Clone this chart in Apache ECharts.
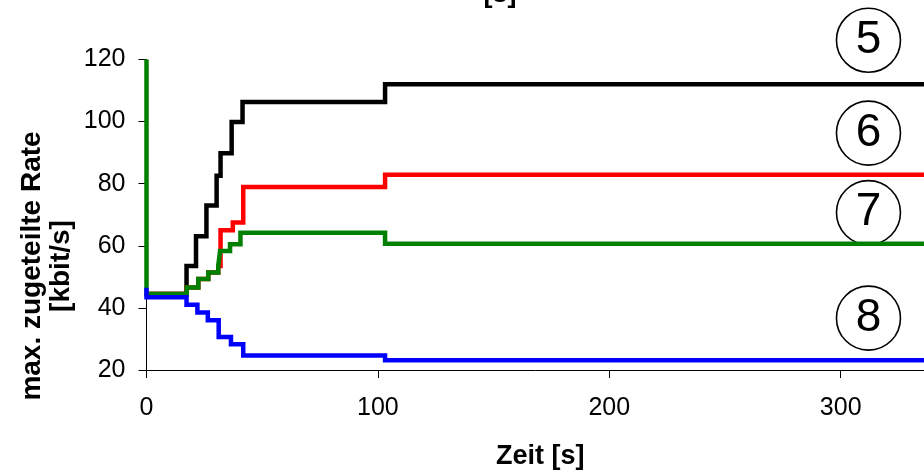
<!DOCTYPE html>
<html>
<head>
<meta charset="utf-8">
<script src="https://cdn.jsdelivr.net/npm/echarts@6/dist/echarts.min.js"></script>
<style>
html,body{margin:0;padding:0;background:#fff;}
#chart{width:924px;height:475px;}
</style>
</head>
<body>
<div id="chart"></div>
<script>
// ---- data (time in s, rate in kbit/s) ----
var blackTimes = [0, 17.3, 21.4, 25.9, 30.3, 32.0, 36.8, 41.5, 103.1, 336];
var blackValues = [44.5, 53.5, 63.1, 73.0, 82.6, 89.8, 99.9, 106.3, 112.0, 112.0];

var redTimes = [0, 17.4, 22.4, 26.7, 31.0, 32.0, 37.3, 41.8, 103.1, 336];
var redValues = [44.5, 46.6, 49.3, 51.4, 53.5, 65.0, 67.5, 78.9, 82.9, 82.9];

var greenTimes = [0, 0, 17.4, 22.4, 26.7, 31.0, 31.8, 36.1, 40.6, 103.1, 336];
var greenValues = [120, 44.5, 46.6, 49.3, 51.4, 53.5, 58.3, 60.5, 64.2, 60.7, 60.7];

var blueTimes = [0, 0, 17.3, 22.0, 26.5, 31.2, 36.5, 41.8, 103.1, 336];
var blueValues = [46.5, 43.4, 41.0, 38.5, 36.0, 30.6, 28.3, 24.7, 23.1, 23.1];

var markerLabels = ['5', '6', '7', '8'];
var markerTimes = [312, 312, 312, 312];
var markerValues = [126.2, 96.3, 70.7, 36.7];

var xTicks = [0, 100, 200, 300];
var yTicks = [20, 40, 60, 80, 100, 120];

function pairs(t, v) { return t.map(function (x, i) { return [x, v[i]]; }); }

var chart = echarts.init(document.getElementById('chart'), null, {renderer: 'canvas'});
var FONT = 'Liberation Sans, Arial, sans-serif';

function stepSeries(name, t, v, color) {
  return {
    name: name, type: 'line', step: 'end', data: pairs(t, v),
    showSymbol: false, symbol: 'none', animation: false,
    lineStyle: {color: color, width: 4.5, join: 'miter', cap: 'butt', opacity: 1},
    itemStyle: {color: color}, z: 3
  };
}

chart.setOption({
  backgroundColor: '#ffffff',
  animation: false,
  grid: {left: 146.5, top: 59.5, bottom: 103.5, right: 0, containLabel: false},
  xAxis: {
    type: 'value', min: 0, max: 336, interval: 100,
    name: 'Zeit [s]', nameLocation: 'middle', nameGap: 73,
    nameTextStyle: {fontFamily: FONT, fontSize: 27, fontWeight: 'bold', color: '#000', padding: [0, 0, 0, 10]},
    axisLine: {show: true, onZero: false, lineStyle: {color: '#000', width: 1}},
    axisTick: {show: true, length: 8, inside: false, lineStyle: {color: '#000'}},
    axisLabel: {
      show: true, margin: 26, fontFamily: FONT, fontSize: 25, color: '#000',
      showMaxLabel: false,
      formatter: function (v) { return xTicks.indexOf(v) >= 0 ? String(v) : ''; }
    },
    splitLine: {show: false}
  },
  yAxis: {
    type: 'value', min: 20, max: 120, interval: 20,
    axisLine: {show: true, onZero: false, lineStyle: {color: '#000', width: 1}},
    axisTick: {show: true, length: 8, inside: false, lineStyle: {color: '#000'}},
    axisLabel: {
      show: true, margin: 21, fontFamily: FONT, fontSize: 25, color: '#000',
      formatter: function (v) { return yTicks.indexOf(v) >= 0 ? String(v) : ''; }
    },
    splitLine: {show: false}
  },
  graphic: [
    {
      type: 'text', x: 47, y: 266, rotation: Math.PI / 2,
      style: {
        text: 'max. zugeteilte Rate\n[kbit/s]',
        font: 'bold 28px ' + FONT, fill: '#000',
        textAlign: 'center', textVerticalAlign: 'middle', lineHeight: 29
      }
    },
    {
      type: 'text', x: 500, y: 8,
      style: {
        text: '[s]', font: 'bold 27px ' + FONT, fill: '#000',
        textAlign: 'center', textVerticalAlign: 'bottom'
      }
    }
  ],
  series: [
    {
      name: 'markers', type: 'scatter', clip: false, z: 1,
      symbol: 'circle', symbolSize: 64,
      data: markerTimes.map(function (x, i) { return {value: [x, markerValues[i]], name: markerLabels[i]}; }),
      itemStyle: {color: '#ffffff', borderColor: '#000', borderWidth: 1.6, opacity: 1},
      label: {
        show: true, position: 'inside', formatter: '{b}',
        fontFamily: FONT, fontSize: 46, color: '#000', opacity: 1
      },
      emphasis: {disabled: true}
    },
    stepSeries('5', blackTimes, blackValues, '#000000'),
    stepSeries('6', redTimes, redValues, '#ff0000'),
    stepSeries('7', greenTimes, greenValues, '#008000'),
    stepSeries('8', blueTimes, blueValues, '#0000ff')
  ]
});
</script>
</body>
</html>
